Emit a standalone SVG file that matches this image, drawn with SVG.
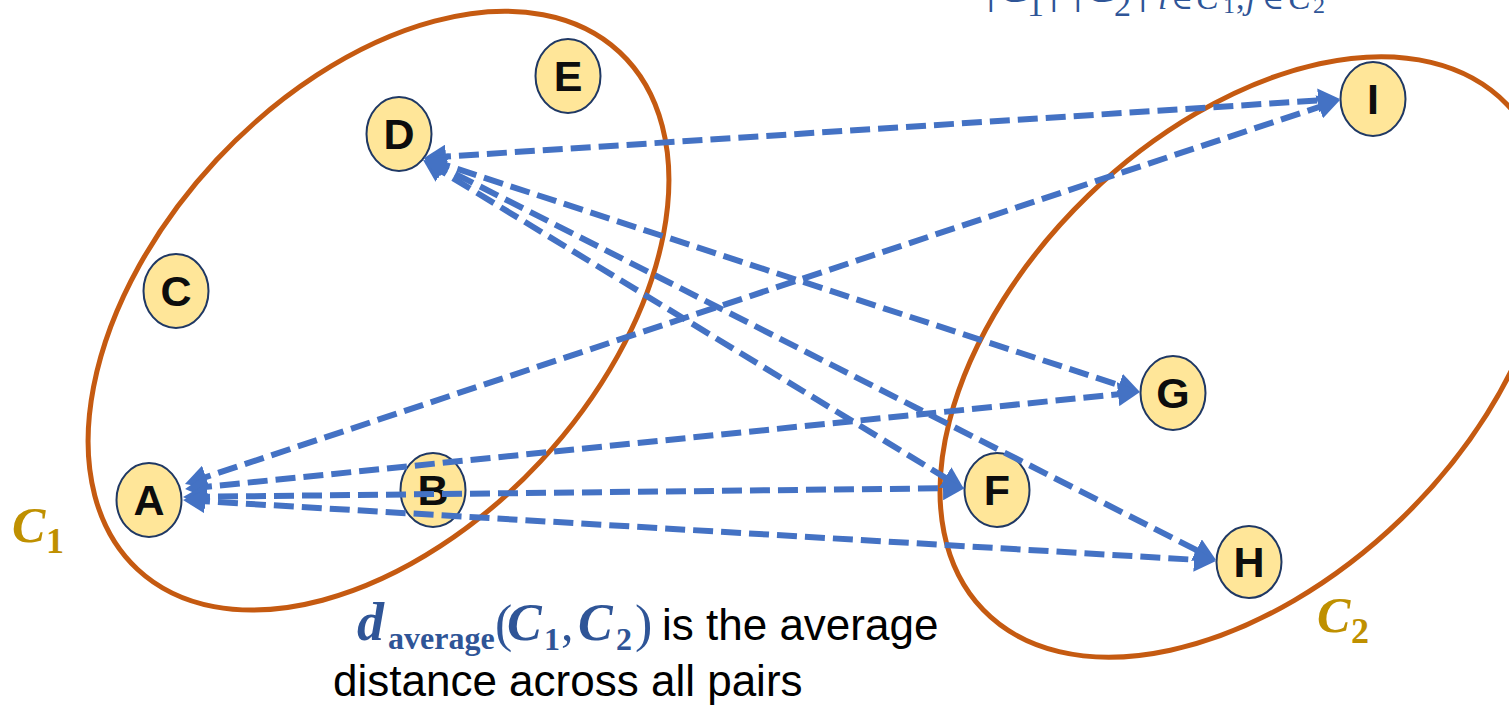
<svg xmlns="http://www.w3.org/2000/svg" width="1509" height="709" viewBox="0 0 1509 709">
<style>
.cluster{fill:none;stroke:#C55A11;stroke-width:5}
.node ellipse{fill:#FFE699;stroke:#1F3864;stroke-width:2}
.node text{font-family:"Liberation Sans",Arial,sans-serif;font-weight:bold;font-size:43px;fill:#0D0D0D;text-anchor:middle}
.conn{fill:none;stroke:#4472C4;stroke-width:6;stroke-dasharray:20 8;marker-start:url(#ah);marker-end:url(#ah)}
.math{font-family:"Liberation Serif","DejaVu Serif",serif;fill:#2F5597}
.lbl{font-family:"Liberation Serif","DejaVu Serif",serif;fill:#BF9000;font-weight:bold}
.body{font-family:"Liberation Sans",Arial,sans-serif;font-size:44px;fill:#000}
</style>
<defs>
<marker id="ah" viewBox="0 0 22 24" markerWidth="22" markerHeight="24" markerUnits="userSpaceOnUse" refX="15" refY="12" orient="auto-start-reverse">
<path d="M0,0 L22,12 L0,24 Z" fill="#4472C4"/>
</marker>
</defs>
<rect width="1509" height="709" fill="#fff"/>

<g id="formula-fragment" class="math">
<text x="986" y="2" font-size="48">|</text>
<text x="998" y="2" font-size="48" font-style="italic">C</text>
<text x="1027" y="16" font-size="34">1</text>
<text x="1049" y="2" font-size="48">|</text>
<text x="1073" y="2" font-size="48">|</text>
<text x="1085" y="2" font-size="48" font-style="italic">C</text>
<text x="1114" y="16" font-size="34">2</text>
<text x="1138" y="2" font-size="48">|</text>
<text x="1158" y="9" font-size="34" font-style="italic">i</text>
<text x="1171" y="9" font-size="30">∈</text>
<text x="1196" y="9" font-size="34" font-style="italic">C</text>
<text x="1223" y="13" font-size="24">1</text>
<text x="1236" y="9" font-size="34">,</text>
<text x="1246" y="9" font-size="34" font-style="italic">j</text>
<text x="1262" y="9" font-size="30">∈</text>
<text x="1288" y="9" font-size="34" font-style="italic">C</text>
<text x="1313" y="13" font-size="24">2</text>
</g>

<g id="cluster-C1">
<ellipse class="cluster" cx="378.5" cy="310.7" rx="353.5" ry="221.3" transform="rotate(-47 378.5 310.7)"/>
<text class="lbl" x="12" y="542" font-size="50" font-style="italic">C</text>
<text class="lbl" x="46" y="553" font-size="36">1</text>
</g>
<g id="cluster-C2">
<ellipse class="cluster" cx="1245" cy="357" rx="364" ry="225" transform="rotate(-44 1245 357)"/>
<text class="lbl" x="1317" y="632" font-size="50" font-style="italic">C</text>
<text class="lbl" x="1351" y="643" font-size="36">2</text>
</g>

<g id="node-E" class="node"><ellipse cx="568" cy="76" rx="32.5" ry="37"/><text x="568" y="91">E</text></g>
<g id="node-D" class="node"><ellipse cx="399" cy="134" rx="32.5" ry="37"/><text x="399" y="149">D</text></g>
<g id="node-C" class="node"><ellipse cx="176" cy="291" rx="32.5" ry="37"/><text x="176" y="306">C</text></g>
<g id="node-A" class="node"><ellipse cx="149" cy="500" rx="32.5" ry="37"/><text x="149" y="515">A</text></g>
<g id="node-B" class="node"><ellipse cx="433" cy="490" rx="32.5" ry="37"/><text x="433" y="505">B</text></g>
<g id="node-I" class="node"><ellipse cx="1373" cy="99" rx="32.5" ry="37"/><text x="1373" y="114">I</text></g>
<g id="node-G" class="node"><ellipse cx="1173" cy="393" rx="32.5" ry="37"/><text x="1173" y="408">G</text></g>
<g id="node-F" class="node"><ellipse cx="997" cy="490" rx="32.5" ry="37"/><text x="997" y="505">F</text></g>
<g id="node-H" class="node"><ellipse cx="1249" cy="562" rx="32.5" ry="36"/><text x="1249" y="577">H</text></g>

<g id="connectors">
<line class="conn" x1="431" y1="157.5" x2="1333" y2="99.5"/>
<line class="conn" x1="430.7" y1="160.2" x2="1133.3" y2="389.8"/>
<line class="conn" x1="429" y1="163.6" x2="958" y2="485.4"/>
<line class="conn" x1="430.2" y1="161.2" x2="1209.8" y2="556.8"/>
<line class="conn" x1="191.6" y1="481.8" x2="1333.4" y2="102.2"/>
<line class="conn" x1="192" y1="488.3" x2="1133" y2="392.7"/>
<line class="conn" x1="190" y1="496.9" x2="958" y2="488.1"/>
<line class="conn" x1="190" y1="500.4" x2="1209" y2="560.6"/>
</g>

<g id="caption">
<text class="math" x="357" y="640" font-size="54" font-weight="bold" font-style="italic">d</text>
<text class="math" x="388" y="649" font-size="32" font-weight="bold">average</text>
<text class="math" x="495" y="641" font-size="52">(</text>
<text class="math" x="507" y="640" font-size="52" font-weight="bold" font-style="italic">C</text>
<text class="math" x="544" y="650" font-size="32" font-weight="bold">1</text>
<text class="math" x="561" y="640" font-size="50">,</text>
<text class="math" x="578" y="640" font-size="52" font-weight="bold" font-style="italic">C</text>
<text class="math" x="616" y="650" font-size="32" font-weight="bold">2</text>
<text class="math" x="635" y="641" font-size="52">)</text>
<text class="body" x="662" y="640">is the average</text>
<text class="body" x="333" y="696">distance across all pairs</text>
</g>
</svg>
